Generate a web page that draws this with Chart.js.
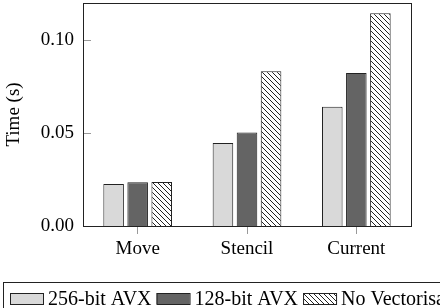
<!DOCTYPE html>
<html>
<head>
<meta charset="utf-8">
<script src="https://cdn.jsdelivr.net/npm/chart.js@4"></script>
<style>
  html, body { margin: 0; padding: 0; background: #fff; }
  #wrap { width: 440px; height: 308px; }
</style>
</head>
<body>
<div id="wrap"><canvas id="myChart" width="440" height="308"></canvas></div>
<script>
// data
var categories = ['Move', 'Stencil', 'Current'];
var avx256 = [0.0226, 0.0446, 0.0642];
var avx128 = [0.0235, 0.0503, 0.0823];
var noVec = [0.0237, 0.0833, 0.1145];
var seriesNames = ['256-bit AVX', '128-bit AVX', 'No Vectorisation'];
var yTicks = [0, 0.05, 0.10];

var serif = "'Liberation Serif', 'Times New Roman', serif";

// hatch pattern for the third series
function hatch() {
    var c = document.createElement('canvas');
    c.width = 5; c.height = 5;
    var g = c.getContext('2d');
    g.fillStyle = '#fff';
    g.fillRect(0, 0, 5, 5);
    g.strokeStyle = '#222';
    g.lineWidth = 1;
    g.beginPath();
    g.moveTo(-1, -1); g.lineTo(6, 6);
    g.moveTo(-1, 4); g.lineTo(1, 6);
    g.moveTo(4, -1); g.lineTo(6, 1);
    g.stroke();
    return g.createPattern(c, 'repeat');
}

var fills = ['#d9d9d9', '#646464', hatch()];

// frame, inner y ticks and the boxed legend
var framePlugin = {
    id: 'frame',
    afterDraw: function (chart) {
        var ctx = chart.ctx, a = chart.chartArea, y = chart.scales.y;
        ctx.save();
        ctx.strokeStyle = '#999';
        ctx.lineWidth = 1;
        yTicks.forEach(function (v) {
            var py = Math.round(y.getPixelForValue(v)) + 0.5;
            ctx.beginPath();
            ctx.moveTo(a.left, py);
            ctx.lineTo(a.left + 8, py);
            ctx.stroke();
        });
        ctx.strokeStyle = '#222';
        ctx.strokeRect(Math.round(a.left) + 0.5, Math.round(a.top) + 0.5,
            Math.round(a.right - a.left), Math.round(a.bottom - a.top));

        // legend
        ctx.strokeRect(3.5, 282.5, 600, 60);
        ctx.font = '20px ' + serif;
        ctx.textBaseline = 'alphabetic';
        ctx.fillStyle = '#000';
        var x = 10;
        chart.data.datasets.forEach(function (ds) {
            ctx.fillStyle = ds.backgroundColor;
            ctx.fillRect(x, 293, 33, 11);
            ctx.strokeStyle = '#222';
            ctx.strokeRect(x + 0.5, 293.5, 33, 11);
            ctx.fillStyle = '#000';
            ctx.fillText(ds.label, x + 38, 305);
            x = x + 38 + ctx.measureText(ds.label).width + 5;
        });
        ctx.restore();
    }
};

var datasets = [avx256, avx128, noVec].map(function (vals, i) {
    return {
        label: seriesNames[i],
        data: vals,
        backgroundColor: fills[i],
        borderColor: '#222',
        borderWidth: 1,
        barPercentage: 0.855,
        categoryPercentage: 0.66
    };
});

new Chart(document.getElementById('myChart'), {
    type: 'bar',
    data: { labels: categories, datasets: datasets },
    options: {
        responsive: false,
        animation: false,
        layout: { padding: { top: 3, right: 29, left: 0, bottom: 0 } },
        plugins: { legend: { display: false }, tooltip: { enabled: false } },
        scales: {
            x: {
                offset: true,
                border: { display: false },
                grid: { offset: false, drawOnChartArea: false, tickLength: 8, color: '#999' },
                ticks: { color: '#000', font: { family: serif, size: 19 }, padding: 4 },
                afterFit: function (s) {
                    s.height = 82;
                    s.paddingLeft = 0; s.paddingRight = 0;
                }
            },
            y: {
                min: 0,
                max: 0.12,
                border: { display: false },
                grid: { display: false, drawTicks: false },
                afterBuildTicks: function (s) {
                    s.ticks = yTicks.map(function (v) { return { value: v }; });
                },
                ticks: {
                    color: '#000',
                    padding: 9,
                    font: { family: serif, size: 19 },
                    callback: function (v) { return Number(v).toFixed(2); }
                },
                title: {
                    display: true,
                    text: 'Time (s)',
                    color: '#000',
                    font: { family: serif, size: 19 },
                    padding: { top: 3, bottom: 0 }
                },
                afterFit: function (s) {
                    s.width = 83;
                    s.paddingTop = 0; s.paddingBottom = 0;
                }
            }
        }
    },
    plugins: [framePlugin]
});
</script>
</body>
</html>
